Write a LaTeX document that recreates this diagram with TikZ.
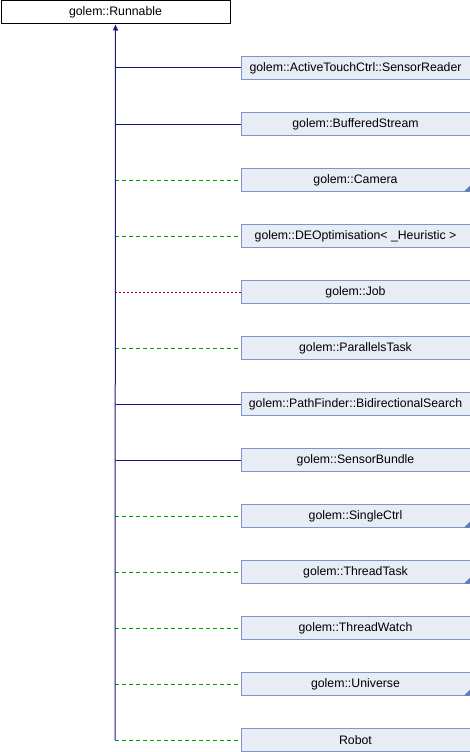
\documentclass[tikz,border=0pt]{standalone}
\usepackage{fontspec}
\setmainfont{Liberation Sans}
\usetikzlibrary{arrows.meta,positioning}
\definecolor{boxfill}{HTML}{E8ECF5}
\definecolor{boxline}{HTML}{7C95CB}
\definecolor{trunccol}{HTML}{5F7DC0}
\definecolor{publine}{HTML}{1A1A8A}
\definecolor{protline}{HTML}{00A000}
\definecolor{privline}{HTML}{B00000}
\begin{document}
\begin{tikzpicture}[x=1pt,y=-1pt,line width=1pt,
  basebox/.style={draw=black,fill=white,minimum width=229pt,minimum height=23pt,inner sep=0pt,font=\fontsize{12.3}{14}\selectfont},
  classbox/.style={draw=boxline,fill=boxfill,minimum width=229pt,minimum height=23pt,inner sep=0pt,anchor=west,font=\fontsize{12.3}{14}\selectfont},
  pub/.style={draw=publine},
  prot/.style={draw=protline,dash pattern=on 4pt off 3pt},
  priv/.style={draw=privline,dash pattern=on 2pt off 2pt}]
\useasboundingbox (0,0) rectangle (470,752);

% Base class
\node[basebox,anchor=north west] (runnable) at (0.5,0.5) {golem::Runnable};

% Derived classes
\foreach \lbl/\sty/\trunc [count=\i] in {
  golem::ActiveTouchCtrl::SensorReader/pub/0,
  golem::BufferedStream/pub/0,
  golem::Camera/prot/1,
  golem::DEOptimisation<\ \_Heuristic\ >/prot/0,
  golem::Job/priv/0,
  golem::ParallelsTask/prot/0,
  golem::PathFinder::BidirectionalSearch/pub/0,
  golem::SensorBundle/pub/0,
  golem::SingleCtrl/prot/1,
  golem::ThreadTask/prot/1,
  golem::ThreadWatch/prot/0,
  golem::Universe/prot/1,
  Robot/prot/0}
{
  \node[classbox] (c\i) at (240.5,{68+56*(\i-1)}) {\lbl};
  \coordinate (j\i) at (115,{68+56*(\i-1)});
  \draw[\sty] (j\i) -- (c\i.west);
  \ifnum\trunc=1
    \fill[trunccol] ([shift={(-0.5,-0.5)}]c\i.south east) -- ++(0,-6) -- ++(-6,6) -- cycle;
  \fi
}

% Trunk with arrow
\draw[pub,-{Triangle[length=6pt,width=5pt]}] (j13) -- (runnable.south);

\end{tikzpicture}
\end{document}
